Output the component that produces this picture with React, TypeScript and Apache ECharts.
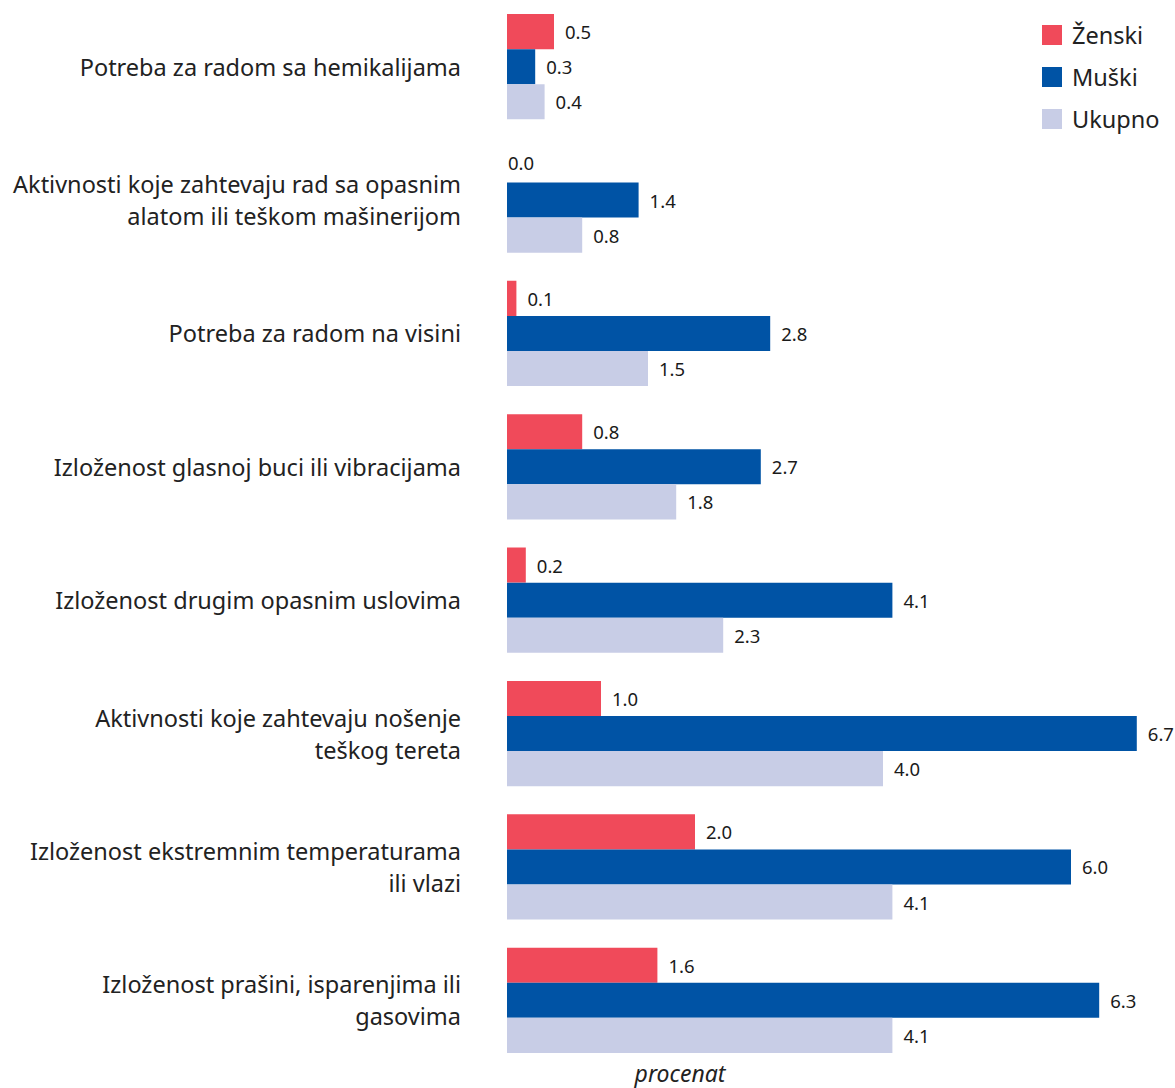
import React, { useEffect, useRef } from "react";
import * as echarts from "echarts";

const categories = [
  "Potreba za radom sa hemikalijama",
  "Aktivnosti koje zahtevaju rad sa opasnim\nalatom ili teškom mašinerijom",
  "Potreba za radom na visini",
  "Izloženost glasnoj buci ili vibracijama",
  "Izloženost drugim opasnim uslovima",
  "Aktivnosti koje zahtevaju nošenje\nteškog tereta",
  "Izloženost ekstremnim temperaturama\nili vlazi",
  "Izloženost prašini, isparenjima ili\ngasovima",
];
const zenski = [0.5, 0.0, 0.1, 0.8, 0.2, 1.0, 2.0, 1.6];
const muski = [0.3, 1.4, 2.8, 2.7, 4.1, 6.7, 6.0, 6.3];
const ukupno = [0.4, 0.8, 1.5, 1.8, 2.3, 4.0, 4.1, 4.1];

const FONT = "'Noto Sans', 'Open Sans', sans-serif";

export default function App() {
  const ref = useRef<HTMLDivElement>(null);
  useEffect(() => {
    if (!ref.current) return;
    const chart = echarts.init(ref.current, null, { renderer: "svg" });
    const labelCfg = {
      show: true,
      position: "right",
      distance: 11,
      fontSize: 18.5,
      fontFamily: FONT,
      color: "#1a1a1a",
      formatter: (p: any) => Number(p.value).toFixed(1),
    };
    const mk = (vals: number[]) =>
      vals.map((v) =>
        v === 0 ? { value: v, label: { offset: [-10, -2] } } : { value: v }
      );
    chart.setOption({
      animation: false,
      textStyle: { fontFamily: FONT },
      grid: { left: 507, right: 10, top: -1, bottom: 21, containLabel: false },
      legend: {
        orient: "vertical",
        left: 1037,
        top: 18,
        itemWidth: 20,
        itemHeight: 20,
        itemGap: 18,
        icon: "rect",
        textStyle: {
          fontSize: 23.5,
          color: "#222",
          fontFamily: FONT,
          padding: [0, 0, 0, 5],
        },
        data: ["Ženski", "Muški", "Ukupno"],
      },
      graphic: [
        {
          type: "text",
          x: 680,
          y: 1073,
          style: {
            text: "procenat",
            fontSize: 23,
            fontStyle: "italic",
            fontFamily: FONT,
            fill: "#222",
            align: "center",
            verticalAlign: "middle",
          },
        },
      ],
      xAxis: {
        type: "value",
        min: 0,
        max: 7,
        axisLine: { show: false },
        axisTick: { show: false },
        axisLabel: { show: false },
        splitLine: { show: false },
      },
      yAxis: {
        type: "category",
        data: categories,
        inverse: true,
        axisLine: { show: false },
        axisTick: { show: false },
        axisLabel: {
          margin: 46,
          fontSize: 23.5,
          lineHeight: 32,
          color: "#222",
          align: "right",
          fontFamily: FONT,
        },
      },
      series: [
        {
          name: "Ženski",
          type: "bar",
          data: mk(zenski),
          itemStyle: { color: "#F04A5A" },
          barGap: "0%",
          barCategoryGap: "21%",
          label: labelCfg,
        },
        {
          name: "Muški",
          type: "bar",
          data: mk(muski),
          itemStyle: { color: "#0053A5" },
          barGap: "0%",
          barCategoryGap: "21%",
          label: labelCfg,
        },
        {
          name: "Ukupno",
          type: "bar",
          data: mk(ukupno),
          itemStyle: { color: "#C8CDE6" },
          barGap: "0%",
          barCategoryGap: "21%",
          label: labelCfg,
        },
      ],
    });
    return () => chart.dispose();
  }, []);
  return (
    <div
      ref={ref}
      style={{ position: "absolute", left: 0, top: 0, width: 1175, height: 1088 }}
    />
  );
}
